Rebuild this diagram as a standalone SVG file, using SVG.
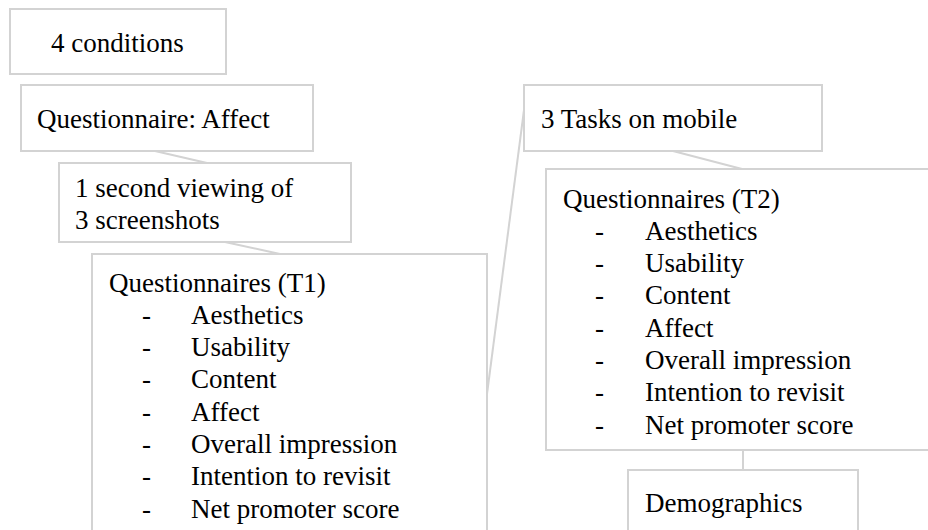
<svg xmlns="http://www.w3.org/2000/svg" width="928" height="530" viewBox="0 0 928 530">
<style>
.box{fill:#fff;stroke:#d3d3d3;stroke-width:2}
.con{stroke:#d3d3d3;stroke-width:2;fill:none}
text{font-family:"Liberation Serif","Times New Roman",serif;font-size:27px;fill:#000}
</style>
<rect width="928" height="530" fill="#fff"/>
<g id="connectors">
<line class="con" x1="155" y1="151" x2="207" y2="163"/>
<line class="con" x1="225" y1="242" x2="280" y2="254"/>
<line class="con" x1="487" y1="394" x2="524" y2="110"/>
<line class="con" x1="673" y1="151" x2="742" y2="169"/>
<line class="con" x1="743" y1="450" x2="743" y2="470"/>
</g>
<g id="n1"><rect class="box" x="10" y="9" width="216" height="65"/><text x="51" y="52">4 conditions</text></g>
<g id="n2"><rect class="box" x="21" y="85" width="292" height="66"/><text x="37" y="128">Questionnaire: Affect</text></g>
<g id="n3"><rect class="box" x="59" y="163" width="292" height="79"/><text x="75" y="197">1 second viewing of</text><text x="75" y="229">3 screenshots</text></g>
<g id="n4"><rect class="box" x="92" y="254" width="395" height="290"/>
<text x="109" y="292">Questionnaires (T1)</text>
<text x="142" y="324">-</text><text x="191" y="324">Aesthetics</text>
<text x="142" y="356">-</text><text x="191" y="356">Usability</text>
<text x="142" y="388">-</text><text x="191" y="388">Content</text>
<text x="142" y="421">-</text><text x="191" y="421">Affect</text>
<text x="142" y="453">-</text><text x="191" y="453">Overall impression</text>
<text x="142" y="485">-</text><text x="191" y="485">Intention to revisit</text>
<text x="142" y="518">-</text><text x="191" y="518">Net promoter score</text>
</g>
<g id="n5"><rect class="box" x="524" y="85" width="298" height="66"/><text x="541" y="128">3 Tasks on mobile</text></g>
<g id="n6"><rect class="box" x="546" y="169" width="400" height="281"/>
<text x="563" y="208">Questionnaires (T2)</text>
<text x="595" y="240">-</text><text x="645" y="240">Aesthetics</text>
<text x="595" y="272">-</text><text x="645" y="272">Usability</text>
<text x="595" y="304">-</text><text x="645" y="304">Content</text>
<text x="595" y="337">-</text><text x="645" y="337">Affect</text>
<text x="595" y="369">-</text><text x="645" y="369">Overall impression</text>
<text x="595" y="401">-</text><text x="645" y="401">Intention to revisit</text>
<text x="595" y="434">-</text><text x="645" y="434">Net promoter score</text>
</g>
<g id="n7"><rect class="box" x="628" y="470" width="230" height="80"/><text x="645" y="512">Demographics</text></g>
</svg>
